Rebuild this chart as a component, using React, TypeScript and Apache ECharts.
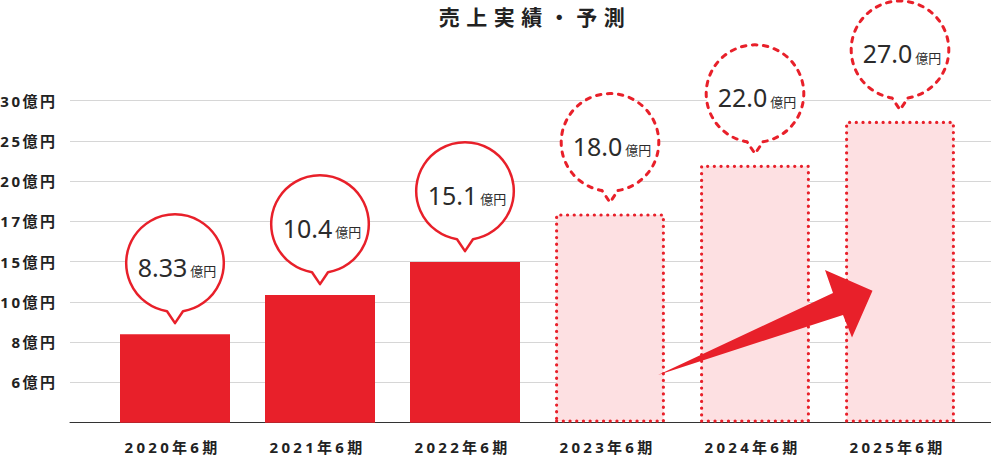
import React, { useEffect, useRef } from 'react';
import * as echarts from 'echarts';

// ---- data ----
const TITLE = '売上実績・予測';
const categories = ['2020年6期', '2021年6期', '2022年6期', '2023年6期', '2024年6期', '2025年6期'];
const salesValues = [8.33, 10.4, 15.1, 18.0, 22.0, 27.0];
// bar heights as drawn, in tick-step units of the (non-linear) y axis
const barLevels = [2.2, 3.17, 3.99, 5.2, 6.41, 7.5];
const isForecast = [false, false, false, true, true, true];
const yTickLabels = ['', '6億円', '8億円', '10億円', '15億円', '17億円', '20億円', '25億円', '30億円'];
const UNIT = '億円';

// ---- styles ----
const RED = '#e8202a';
const PINK = '#fde0e2';
const TEXT = '#222222';
const FONT = "'Noto Sans', 'Noto Sans CJK JP', sans-serif";
const CJK = "'Noto Sans CJK JP', 'Noto Sans', sans-serif";
const ff = (tag: string, base = FONT) => `${tag}, ${base}`;

const BUBBLE = 'M 8 48.1 A 48.8 48.8 0 1 0 -8 48.1 L 0 60 Z';
const ARROW_POINTS = [
  [658, 375],
  [833, 293],
  [825, 270],
  [872.5, 290.7],
  [852, 337.5],
  [843, 315],
];

const css = `
body{margin:0}
.sales-chart text[style*="lsT"]{letter-spacing:6.5px}
.sales-chart text[style*="lsX"]{letter-spacing:3.3px}
.sales-chart text[style*="lsY"]{letter-spacing:2.5px}
`;

const fmt = (v: number) => v.toPrecision(3);

function buildOption(): any {
  return {
    animation: false,
    title: {
      text: TITLE,
      left: 535,
      top: 5,
      padding: 0,
      textAlign: 'center',
      textStyle: { fontFamily: ff('lsT', CJK), fontSize: 21, fontWeight: 'bold', color: TEXT },
    },
    grid: [
      { left: 102.5, right: 18.5, top: 100.7, bottom: 34.3 },
      { left: 70, right: 0, top: 100.7, bottom: 34.3 },
    ],
    xAxis: [
      {
        type: 'category',
        gridIndex: 0,
        data: categories,
        axisLine: { show: false },
        axisTick: { show: false },
        axisLabel: {
          margin: 17,
          padding: [0, 5, 0, 0],
          fontFamily: ff('lsX'),
          fontSize: 15,
          fontWeight: 'bold',
          color: TEXT,
        },
      },
      {
        type: 'value',
        gridIndex: 1,
        min: 0,
        max: 1,
        axisLabel: { show: false },
        axisTick: { show: false },
        splitLine: { show: false },
        axisLine: { show: true, lineStyle: { color: '#333', width: 1 } },
      },
    ],
    yAxis: [
      { type: 'value', gridIndex: 0, min: 0, max: 8, interval: 1, show: false },
      {
        type: 'value',
        gridIndex: 1,
        min: 0,
        max: 8,
        interval: 1,
        axisLine: { show: false },
        axisTick: { show: false },
        splitLine: { show: true, lineStyle: { color: '#d6d6d6', width: 1 } },
        axisLabel: {
          formatter: (v: number) => yTickLabels[Math.round(v)] || '',
          margin: 12.5,
          fontFamily: ff('lsY'),
          fontSize: 15,
          fontWeight: 'bold',
          color: TEXT,
        },
      },
    ],
    series: [
      {
        type: 'bar',
        xAxisIndex: 0,
        yAxisIndex: 0,
        barWidth: 110,
        z: 2,
        data: barLevels.map((v, i) => ({
          value: v,
          itemStyle: isForecast[i]
            ? { color: PINK, borderColor: RED, borderWidth: 3.2, borderType: [0.1, 6.6], borderCap: 'round' }
            : { color: RED },
        })),
      },
      {
        type: 'custom',
        xAxisIndex: 0,
        yAxisIndex: 0,
        z: 5,
        data: barLevels.map((v, i) => [i, v, salesValues[i], isForecast[i] ? 1 : 0]),
        renderItem: (params: any, api: any) => {
          const p = api.coord([api.value(0), api.value(1)]);
          const fc = api.value(3) === 1;
          const cx = p[0];
          const cy = p[1] - 71;
          const bubbleStyle: any = {
            fill: '#fff',
            stroke: RED,
            lineWidth: fc ? 3 : 2.5,
            lineJoin: 'round',
          };
          if (fc) {
            bubbleStyle.lineDash = [4.5, 6.5];
            bubbleStyle.lineCap = 'round';
          }
          return {
            type: 'group',
            children: [
              { type: 'path', x: cx, y: cy, shape: { pathData: BUBBLE }, style: bubbleStyle },
              {
                type: 'text',
                x: cx + 2,
                y: cy + 2,
                style: {
                  text: `{n|${fmt(api.value(2))}}{u|${UNIT}}`,
                  align: 'center',
                  verticalAlign: 'middle',
                  rich: {
                    n: {
                      fontSize: 25,
                      fontFamily: FONT,
                      fill: '#2b2b2b',
                      lineHeight: 28,
                      verticalAlign: 'bottom',
                      padding: [0, 3, 0, 0],
                    },
                    u: {
                      fontSize: 13,
                      fontFamily: CJK,
                      fill: '#2b2b2b',
                      lineHeight: 28,
                      verticalAlign: 'bottom',
                      padding: [0, 0, 2, 0],
                    },
                  },
                },
              },
            ],
          };
        },
      },
    ],
    graphic: [
      {
        type: 'polygon',
        z: 20,
        shape: { points: ARROW_POINTS },
        style: { fill: RED },
      },
    ],
  };
}

export default function App() {
  const ref = useRef<HTMLDivElement>(null);
  useEffect(() => {
    if (!ref.current) return;
    const chart = echarts.init(ref.current, null, { renderer: 'svg' });
    chart.setOption(buildOption());
    return () => chart.dispose();
  }, []);
  return (
    <>
      <style>{css}</style>
      <div className="sales-chart" ref={ref} style={{ width: 991, height: 457 }} />
    </>
  );
}
